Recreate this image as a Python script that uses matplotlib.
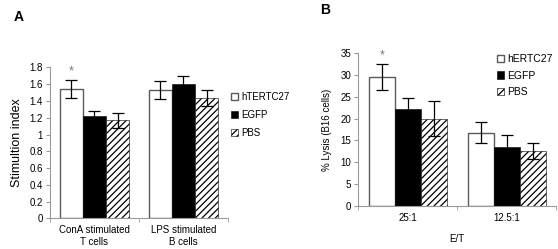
import numpy as np
import matplotlib.pyplot as plt

plt.rcParams['font.family'] = ['Liberation Sans', 'DejaVu Sans']
plt.rcParams['hatch.linewidth'] = 0.9

# Panel A data
a_groups = ['ConA stimulated\nT cells', 'LPS stimulated\nB cells']
a_labels = ['hTERTC27', 'EGFP', 'PBS']
a_vals = [[1.54, 1.53], [1.22, 1.60], [1.17, 1.43]]
a_errs = [[0.11, 0.11], [0.065, 0.10], [0.09, 0.095]]

# Panel B data
b_groups = ['25:1', '12.5:1']
b_labels = ['hERTC27', 'EGFP', 'PBS']
b_vals = [[29.6, 16.8], [22.1, 13.5], [20.0, 12.5]]
b_errs = [[3.0, 2.4], [2.6, 2.8], [4.1, 1.8]]

GRAY = '#9a9a9a'
W = 0.262
styles = [dict(color='white', edgecolor='#5a5a5a', hatch=None),
          dict(color='black', edgecolor='black', hatch=None),
          dict(color='white', edgecolor='black', hatch='/////')]


def draw_panel(ax, groups, labels, vals, errs):
    x = np.arange(len(groups))
    for i in range(3):
        st = styles[i]
        ax.bar(x + (i - 1) * W, vals[i], W, color=st['color'],
               edgecolor=st['edgecolor'], hatch=st['hatch'],
               linewidth=1.0 if i == 0 else 0.4, label=labels[i],
               yerr=errs[i], capsize=4,
               error_kw=dict(elinewidth=0.9, capthick=0.9, ecolor='black'))
    ax.set_xlim(-0.5, len(groups) - 0.5)
    ax.set_xticks(x)
    ax.set_xticklabels(groups, fontsize=7)
    ax.set_xticks(np.arange(len(groups) + 1) - 0.5, minor=True)
    ax.tick_params(axis='x', which='major', length=0, pad=5)
    ax.tick_params(axis='x', which='minor', length=3, color=GRAY)
    ax.tick_params(axis='y', length=3, color=GRAY, labelsize=7, pad=2)
    for s in ['top', 'right']:
        ax.spines[s].set_visible(False)
    for s in ['left', 'bottom']:
        ax.spines[s].set_color(GRAY)
        ax.spines[s].set_linewidth(0.8)


fig = plt.figure(figsize=(5.58, 2.49), dpi=100)

axA = fig.add_axes([0.0896, 0.1225, 0.319, 0.607])
draw_panel(axA, a_groups, a_labels, a_vals, a_errs)
axA.set_ylim(0, 1.8)
axA.set_yticks(np.arange(0, 1.81, 0.2))
axA.set_yticklabels(['0', '0.2', '0.4', '0.6', '0.8', '1', '1.2', '1.4', '1.6', '1.8'])
axA.set_ylabel('Stimultion index', fontsize=9, labelpad=5)
axA.text(-W, a_vals[0][0] + a_errs[0][0] + 0.03, '*', color='#777777',
         ha='center', va='bottom', fontsize=9)
axA.legend(loc='upper left', bbox_to_anchor=(0.98, 0.885), frameon=False,
           fontsize=7, handlelength=0.7, handleheight=0.7, handletextpad=0.3,
           labelspacing=0.85, borderpad=0.2)

axB = fig.add_axes([0.642, 0.174, 0.355, 0.612])
draw_panel(axB, b_groups, b_labels, b_vals, b_errs)
axB.set_ylim(0, 35)
axB.set_yticks(np.arange(0, 36, 5))
axB.set_ylabel('% Lysis (B16 cells)', fontsize=7, labelpad=6)
axB.set_xlabel('E/T', fontsize=7, labelpad=8)
axB.text(-W, b_vals[0][0] + b_errs[0][0] + 0.6, '*', color='#777777',
         ha='center', va='bottom', fontsize=9)
axB.legend(loc='upper right', bbox_to_anchor=(1.02, 1.04), frameon=False,
           fontsize=7.5, handlelength=0.7, handleheight=0.7, handletextpad=0.3,
           labelspacing=0.6, borderpad=0.2)

fig.text(14 / 558, 1 - 17 / 249, 'A', fontsize=10, fontweight='bold',
         ha='left', va='center')
fig.text(320 / 558, 1 - 10 / 249, 'B', fontsize=10, fontweight='bold',
         ha='left', va='center')

fig.savefig('out.png', dpi=100)
